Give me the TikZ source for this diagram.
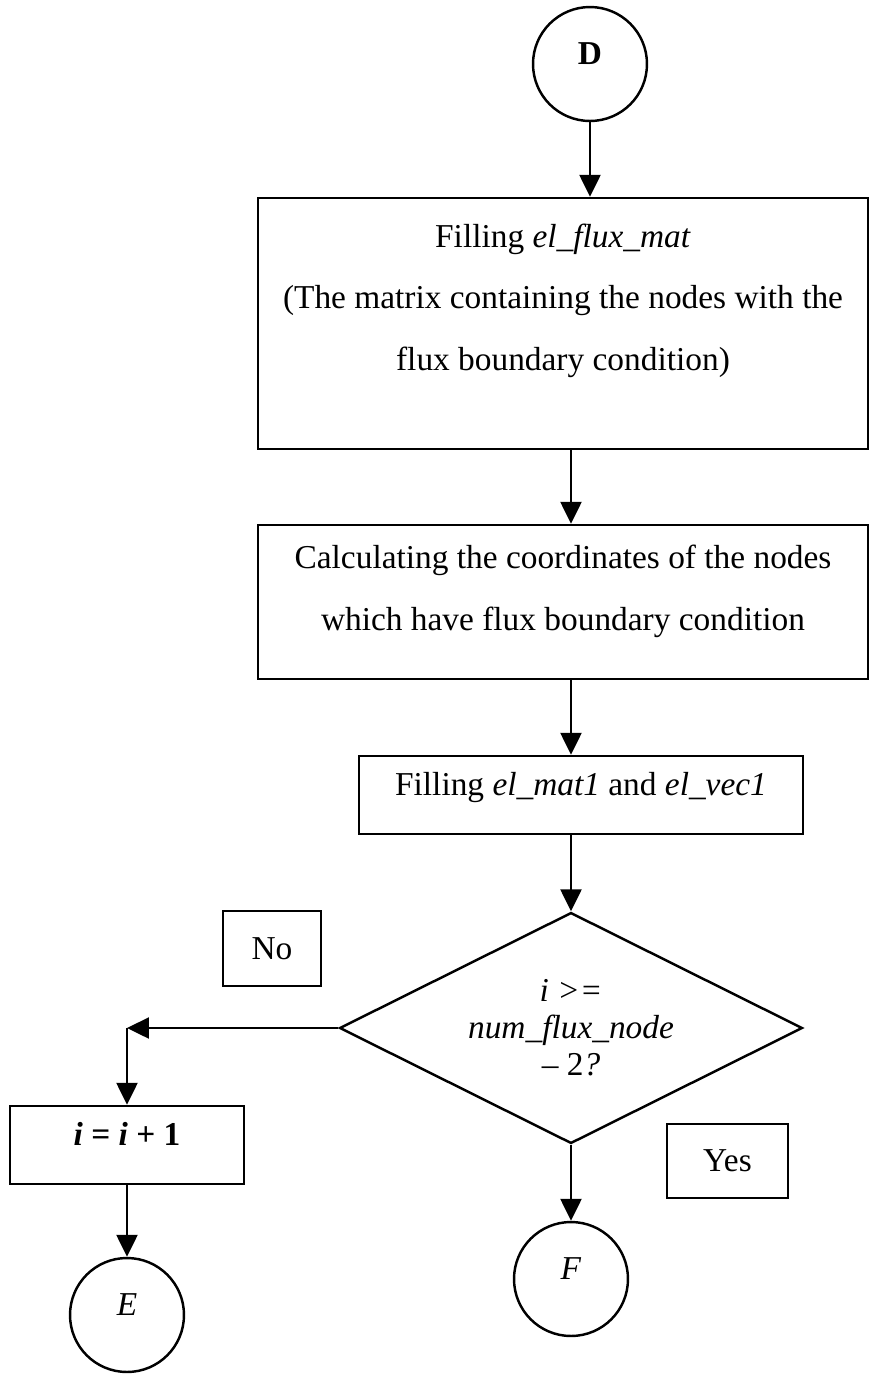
\documentclass[tikz,border=0pt]{standalone}
\usepackage{fontspec}
\setmainfont{Liberation Serif}
\usetikzlibrary{shapes.geometric, arrows.meta}

\begin{document}
\begin{tikzpicture}[
  x=0.02cm, y=-0.02cm,
  line width=1.4pt,
  font=\fontsize{19}{35}\selectfont,
  box/.style={draw, rectangle, inner sep=0pt, align=center},
  connector/.style={draw, circle, minimum size=2.28cm, inner sep=0pt,
    text height=0.35cm, text depth=0.35cm},
  decision/.style={draw, diamond, aspect=2, inner sep=0pt, align=center,
    minimum width=9.26cm, minimum height=4.62cm,
    font=\fontsize{19}{21}\selectfont},
  arr/.style={-{Triangle[length=0.44cm, width=0.42cm]}}
]
\useasboundingbox (0,0) rectangle (870,1374);

\node[connector] (D) at (590,64) {\textbf{D}};
\node[box, minimum width=12.2cm, minimum height=5.02cm,
  text height=2.16cm, text depth=0.3cm] (fill1) at (563,323.5)
  {Filling \textit{el\_flux\_mat}\\(The matrix containing the nodes with the\\flux boundary condition)};
\node[box, minimum width=12.2cm, minimum height=3.08cm,
  text height=1.42cm, text depth=0.3cm] (coords) at (563,602)
  {Calculating the coordinates of the nodes\\which have flux boundary condition};
\node[box, minimum width=8.88cm, minimum height=1.56cm,
  text height=0.5cm, text depth=0.5cm] (fill3) at (581,795)
  {Filling \textit{el\_mat1} and \textit{el\_vec1}};
\node[decision] (dec) at (571,1028)
  {\textit{i >=}\\\textit{num\_flux\_node}\\– 2\textit{?}};
\node[box, minimum width=1.96cm, minimum height=1.5cm] (no) at (272,948.5) {No};
\node[box, minimum width=2.42cm, minimum height=1.48cm] (yes) at (727.5,1161) {Yes};
\node[box, minimum width=4.68cm, minimum height=1.56cm,
  text height=0.5cm, text depth=0.5cm] (incr) at (127,1145)
  {\textbf{\textit{i} = \textit{i} + 1}};
\node[connector] (E) at (127,1315) {\textit{E}};
\node[connector] (F) at (571,1279) {\textit{F}};

\coordinate (turn) at (incr.north |- dec.west);

\draw[arr] (D) -- (D |- fill1.north);
\draw[arr] (fill1.south -| dec.north) -- (coords.north -| dec.north);
\draw[arr] (coords.south -| dec.north) -- (fill3.north -| dec.north);
\draw[arr] (fill3.south -| dec.north) -- (dec.north);
\draw[arr] (dec.west) -- (turn);
\draw[arr] (turn) -- (incr.north);
\draw[arr] (incr) -- (E);
\draw[arr] (dec.south) -- (F);
\end{tikzpicture}
\end{document}
